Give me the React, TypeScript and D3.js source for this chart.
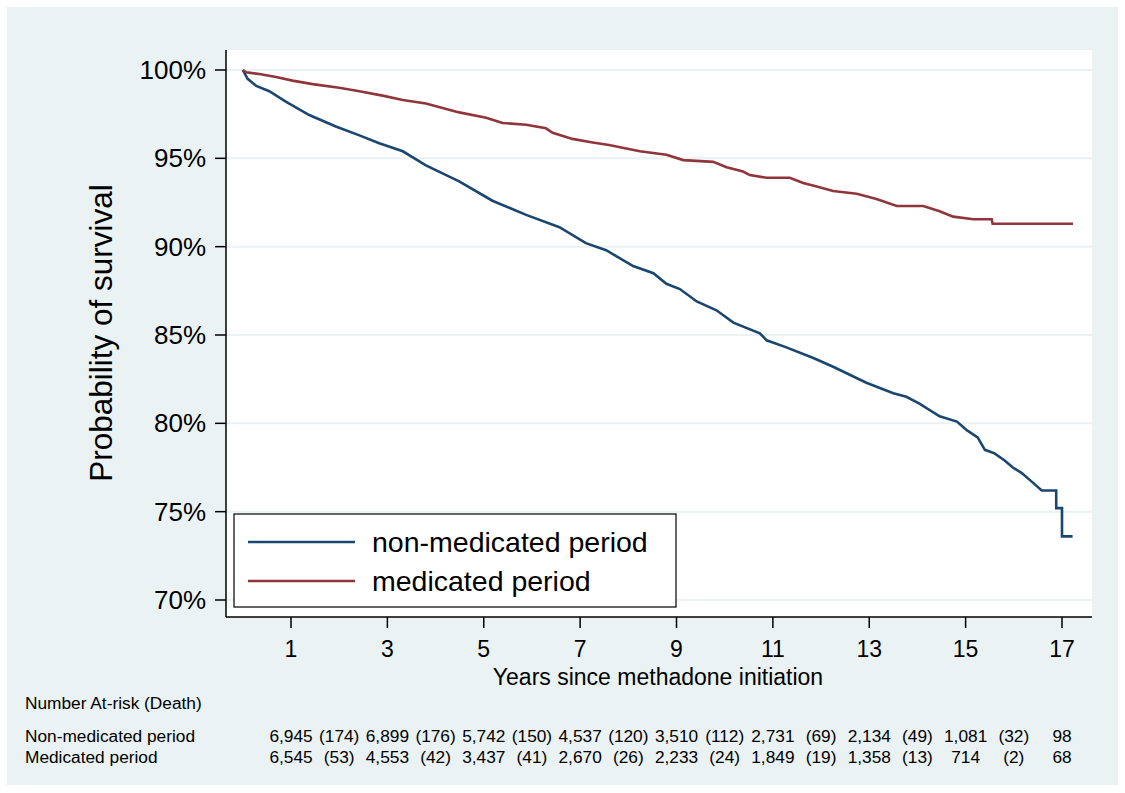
import * as d3 from 'd3';
import React from 'react';

// Kaplan-Meier curves (years, survival %)
const nonMedTimes = [0, 0.1, 0.28, 0.55, 0.9, 1.38, 1.93, 2.42, 2.83, 3.32, 3.8, 4.49, 5.18, 5.88, 6.57, 7.12, 7.54, 8.1, 8.52, 8.79, 9.07, 9.42, 9.83, 10.18, 10.73, 10.87, 11.28, 11.84, 12.25, 12.94, 13.5, 13.77, 14.05, 14.46, 14.82, 15.03, 15.25, 15.4, 15.6, 15.81, 15.98, 16.16, 16.33, 16.58, 16.88, 16.88, 17.0, 17.0, 17.22];
const nonMedSurv = [100, 99.5, 99.1, 98.8, 98.2, 97.45, 96.8, 96.3, 95.85, 95.4, 94.6, 93.7, 92.6, 91.8, 91.1, 90.2, 89.8, 88.9, 88.5, 87.9, 87.6, 86.9, 86.4, 85.7, 85.1, 84.7, 84.3, 83.7, 83.2, 82.3, 81.7, 81.5, 81.1, 80.4, 80.1, 79.6, 79.2, 78.5, 78.3, 77.9, 77.5, 77.2, 76.8, 76.2, 76.2, 75.2, 75.2, 73.6, 73.6];

const medTimes = [0, 0.07, 0.34, 0.69, 1.03, 1.45, 2.0, 2.42, 2.9, 3.32, 3.8, 4.49, 5.05, 5.39, 5.88, 6.29, 6.43, 6.84, 7.26, 7.6, 7.88, 8.24, 8.79, 9.14, 9.76, 10.04, 10.38, 10.52, 10.87, 11.35, 11.63, 11.91, 12.25, 12.74, 13.15, 13.57, 14.12, 14.46, 14.74, 15.16, 15.54, 15.56, 17.23];
const medSurv = [100, 99.87, 99.77, 99.6, 99.4, 99.2, 99.0, 98.8, 98.55, 98.3, 98.1, 97.6, 97.3, 97.0, 96.9, 96.7, 96.45, 96.1, 95.9, 95.75, 95.6, 95.4, 95.2, 94.9, 94.8, 94.5, 94.25, 94.05, 93.9, 93.9, 93.6, 93.4, 93.15, 93.0, 92.7, 92.3, 92.3, 92.0, 91.7, 91.55, 91.55, 91.3, 91.3];

const xTicks = [1, 3, 5, 7, 9, 11, 13, 15, 17];
const yTicks = [100, 95, 90, 85, 80, 75, 70];

const seriesNames = ['non-medicated period', 'medicated period'];
const seriesColors = ['#1a476f', '#90353b'];

// number at risk table
const riskYears = [1, 3, 5, 7, 9, 11, 13, 15, 17];
const deathYears = [2, 4, 6, 8, 10, 12, 14, 16];
const rowLabels = ['Non-medicated period', 'Medicated period'];
const nonMedAtRisk = ['6,945', '6,899', '5,742', '4,537', '3,510', '2,731', '2,134', '1,081', '98'];
const nonMedDeaths = ['(174)', '(176)', '(150)', '(120)', '(112)', '(69)', '(49)', '(32)'];
const medAtRisk = ['6,545', '4,553', '3,437', '2,670', '2,233', '1,849', '1,358', '714', '68'];
const medDeaths = ['(53)', '(42)', '(41)', '(26)', '(24)', '(19)', '(13)', '(2)'];

const W = 1125;
const H = 793;
const font = '"Liberation Sans", Arial, Helvetica, sans-serif';

export default function App() {
    const plotLeft = 226;
    const plotRight = 1092;
    const plotTop = 50;
    const plotBottom = 617;

    const x = d3.scaleLinear().domain([1, 17]).range([291, 1062]);
    const y = d3.scaleLinear().domain([70, 100]).range([600, 70]);

    const line = d3.line<[number, number]>()
        .x(d => x(d[0]))
        .y(d => y(d[1]));

    const curves = [
        d3.zip(nonMedTimes, nonMedSurv) as [number, number][],
        d3.zip(medTimes, medSurv) as [number, number][],
    ];

    const rows = [
        { label: rowLabels[0], risk: nonMedAtRisk, deaths: nonMedDeaths, yy: 742 },
        { label: rowLabels[1], risk: medAtRisk, deaths: medDeaths, yy: 763 },
    ];

    const tableSize = 17.3;

    return (
        <svg width={W} height={H} style={{ position: 'absolute', left: 0, top: 0 }} fontFamily={font}>
            <rect x={0} y={0} width={W} height={H} fill="#ffffff" />
            <rect x={7} y={7} width={1111} height={778} fill="#eaf2f3" />
            <rect x={plotLeft} y={plotTop} width={plotRight - plotLeft} height={plotBottom - plotTop} fill="#ffffff" />

            {/* gridlines */}
            {yTicks.map(t => (
                <line key={'g' + t} x1={plotLeft} x2={plotRight} y1={y(t)} y2={y(t)} stroke="#eaf2f3" strokeWidth={2} />
            ))}

            {/* curves */}
            {curves.map((c, i) => (
                <path key={'c' + i} d={line(c) || ''} fill="none" stroke={seriesColors[i]} strokeWidth={2.6} strokeLinejoin="miter" />
            ))}

            {/* y axis */}
            <line x1={plotLeft} x2={plotLeft} y1={plotTop} y2={plotBottom} stroke="#000" strokeWidth={1.5} />
            {yTicks.map(t => (
                <g key={'y' + t}>
                    <line x1={plotLeft - 11} x2={plotLeft} y1={y(t)} y2={y(t)} stroke="#000" strokeWidth={1.5} />
                    <text x={206} y={y(t) + 9} fontSize={26} textAnchor="end" fill="#000">{t}%</text>
                </g>
            ))}
            <text transform={`translate(112,${333}) rotate(-90)`} fontSize={31.5} textAnchor="middle" fill="#000">
                Probability of survival
            </text>

            {/* x axis */}
            <line x1={plotLeft} x2={plotRight} y1={plotBottom} y2={plotBottom} stroke="#000" strokeWidth={1.5} />
            {xTicks.map(t => (
                <g key={'x' + t}>
                    <line x1={x(t)} x2={x(t)} y1={plotBottom} y2={plotBottom + 11} stroke="#000" strokeWidth={1.5} />
                    <text x={x(t)} y={657} fontSize={23} textAnchor="middle" fill="#000">{t}</text>
                </g>
            ))}
            <text x={658} y={685} fontSize={23} textAnchor="middle" fill="#000">Years since methadone initiation</text>

            {/* legend */}
            <rect x={234} y={514} width={442} height={93} fill="#ffffff" stroke="#000" strokeWidth={1.2} />
            {seriesNames.map((name, i) => (
                <g key={'l' + i}>
                    <line x1={248} x2={355} y1={542 + i * 39} y2={542 + i * 39} stroke={seriesColors[i]} strokeWidth={2.6} />
                    <text x={372} y={552 + i * 39} fontSize={28.5} fill="#000">{name}</text>
                </g>
            ))}

            {/* at-risk table */}
            <text x={25} y={709} fontSize={tableSize} fill="#000">Number At-risk (Death)</text>
            {rows.map(r => (
                <g key={r.label}>
                    <text x={25} y={r.yy} fontSize={tableSize} fill="#000">{r.label}</text>
                    {r.risk.map((v, i) => (
                        <text key={'r' + i} x={x(riskYears[i])} y={r.yy} fontSize={tableSize} textAnchor="middle" fill="#000">{v}</text>
                    ))}
                    {r.deaths.map((v, i) => (
                        <text key={'d' + i} x={x(deathYears[i])} y={r.yy} fontSize={tableSize} textAnchor="middle" fill="#000">{v}</text>
                    ))}
                </g>
            ))}
        </svg>
    );
}
